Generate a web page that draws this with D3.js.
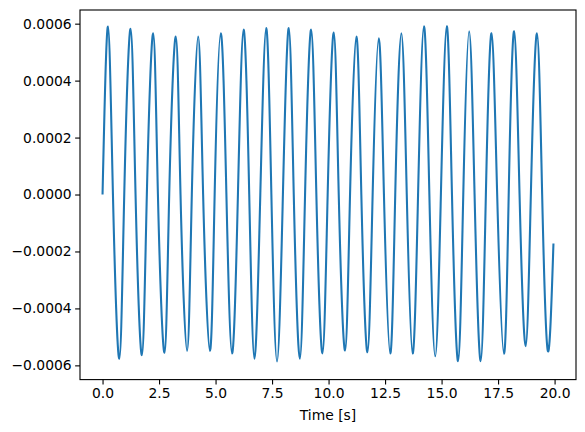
<!DOCTYPE html>
<html>
<head>
<meta charset="utf-8">
<script src="https://cdn.jsdelivr.net/npm/d3@7"></script>
<style>
  html, body { margin: 0; padding: 0; background: #ffffff; }
  svg { display: block; }
  text { font-family: "DejaVu Sans", sans-serif; }
</style>
</head>
<body>
<svg id="chart" width="585" height="432"></svg>
<script>
// Time samples [s] (start, extrema, zero crossings, end)
const times = [
  0, 0.24, 0.46, 0.74, 0.96,
  1.24, 1.46, 1.74, 1.96,
  2.24, 2.45, 2.74, 2.95,
  3.24, 3.45, 3.74, 3.95,
  4.23, 4.45, 4.75, 4.96,
  5.23, 5.48, 5.73, 5.99,
  6.24, 6.49, 6.72, 6.98,
  7.24, 7.47, 7.72, 7.98,
  8.24, 8.46, 8.73, 8.96,
  9.23, 9.46, 9.73, 9.96,
  10.23, 10.45, 10.73, 10.95,
  11.23, 11.45, 11.72, 11.95,
  12.22, 12.45, 12.73, 12.95,
  13.22, 13.46, 13.72, 13.96,
  14.22, 14.46, 14.72, 14.97,
  15.23, 15.46, 15.73, 15.96,
  16.22, 16.46, 16.73, 16.96,
  17.21, 17.46, 17.76, 17.97,
  18.21, 18.45, 18.72, 18.95,
  19.22, 19.45, 19.70, 19.95
];
// Signal values at those times
const values = [
  0, 0.000590, 0, -0.000577, 0,
  0.000582, 0, -0.000564, 0,
  0.000566, 0, -0.000556, 0,
  0.000555, 0, -0.000549, 0,
  0.000555, 0, -0.000549, 0,
  0.000566, 0, -0.000558, 0,
  0.000579, 0, -0.000577, 0,
  0.000585, 0, -0.000586, 0,
  0.000585, 0, -0.000577, 0,
  0.000579, 0, -0.000558, 0,
  0.000569, 0, -0.000548, 0,
  0.000555, 0, -0.000554, 0,
  0.000549, 0, -0.000558, 0,
  0.000566, 0, -0.000558, 0,
  0.000591, 0, -0.000568, 0,
  0.000591, 0, -0.000585, 0,
  0.000573, 0, -0.000585, 0,
  0.000566, 0, -0.000559, 0,
  0.000573, 0, -0.000533, 0,
  0.000566, 0, -0.000549, -0.000172
];
const xTicks = [0, 2.5, 5, 7.5, 10, 12.5, 15, 17.5, 20];
const yTicks = [-0.0006, -0.0004, -0.0002, 0, 0.0002, 0.0004, 0.0006];
const xLabel = "Time [s]";

const data = times.map((t, i) => ({ t: t, v: values[i] }));

const mLeft = 80, mRight = 576, mTop = 10, mBottom = 379.6;
const svg = d3.select("#chart");

const x = d3.scaleLinear().domain([-0.9975, 20.9475]).range([mLeft, mRight]);
const y = d3.scaleLinear().domain([-0.000650, 0.000648]).range([mBottom, mTop]);

const fontSize = "13.89px";
const tickLen = 4.86;
const axisW = 1.11;

// line
const line = d3.line()
  .x(d => x(d.t))
  .y(d => y(d.v))
  .curve(d3.curveNatural);

svg.append("path")
  .datum(data)
  .attr("fill", "none")
  .attr("stroke", "#1f77b4")
  .attr("stroke-width", 2.08)
  .attr("stroke-linejoin", "round")
  .attr("stroke-linecap", "butt")
  .attr("d", line);

// x axis
const xAxis = svg.append("g")
  .attr("transform", `translate(0,${mBottom})`)
  .call(d3.axisBottom(x).tickValues(xTicks).tickFormat(d3.format(".1f"))
    .tickSize(tickLen).tickPadding(3.5).tickSizeOuter(0));
xAxis.select(".domain").remove();
xAxis.selectAll("line").attr("stroke", "#000").attr("stroke-width", axisW);
xAxis.selectAll("text").attr("font-size", fontSize).attr("fill", "#000")
  .style("font-family", "'DejaVu Sans', sans-serif");

// y axis
const yAxis = svg.append("g")
  .attr("transform", `translate(${mLeft},0)`)
  .call(d3.axisLeft(y).tickValues(yTicks).tickFormat(d3.format(".4f"))
    .tickSize(tickLen).tickPadding(3.5).tickSizeOuter(0));
yAxis.select(".domain").remove();
yAxis.selectAll("line").attr("stroke", "#000").attr("stroke-width", axisW);
yAxis.selectAll("text").attr("font-size", fontSize).attr("fill", "#000")
  .style("font-family", "'DejaVu Sans', sans-serif");

// frame
svg.append("rect")
  .attr("x", mLeft).attr("y", mTop)
  .attr("width", mRight - mLeft).attr("height", mBottom - mTop)
  .attr("fill", "none").attr("stroke", "#000").attr("stroke-width", axisW);

// x label
svg.append("text")
  .attr("x", (mLeft + mRight) / 2)
  .attr("y", 420)
  .attr("text-anchor", "middle")
  .attr("font-size", fontSize)
  .attr("fill", "#000")
  .text(xLabel);
</script>
</body>
</html>
